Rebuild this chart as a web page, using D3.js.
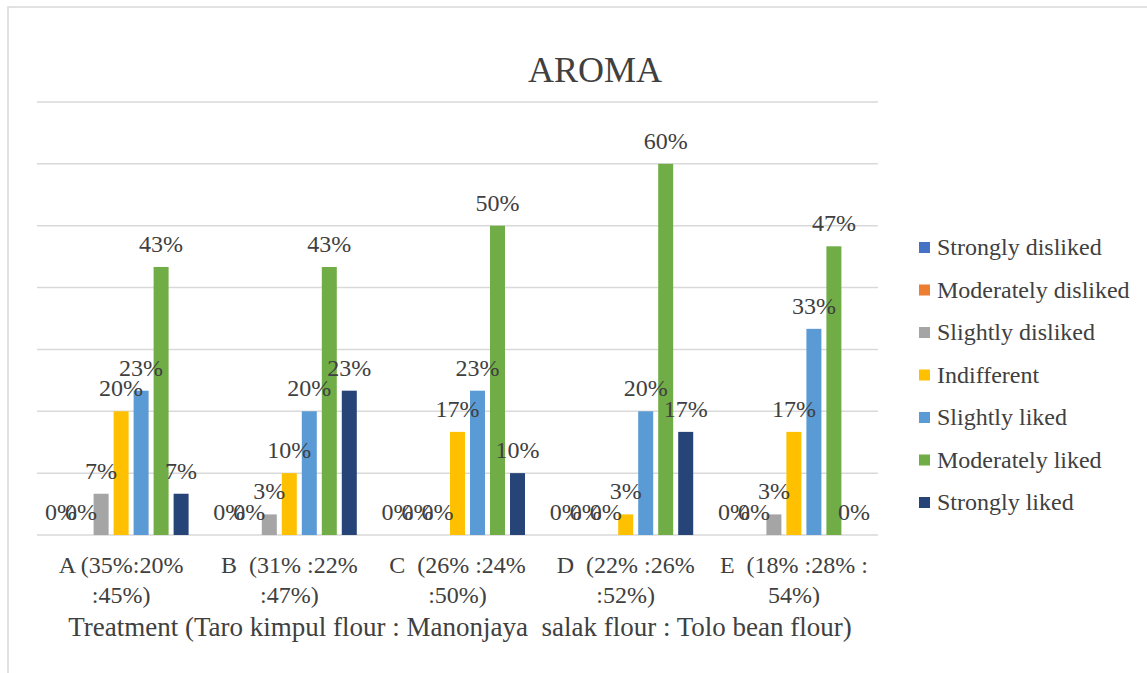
<!DOCTYPE html>
<html>
<head>
<meta charset="utf-8">
<script src="https://cdn.jsdelivr.net/npm/d3@7"></script>
</head>
<body>
<svg id="chart" width="1147" height="673" style="position:absolute;left:0;top:0"></svg>
<script>
// categories (two lines each) and series
const categories = ["A", "B", "C", "D", "E"];
const catLine1 = ["A (35%:20%", "B  (31% :22%", "C  (26% :24%", "D  (22% :26%", "E  (18% :28% :"];
const catLine2 = [":45%)", ":47%)", ":50%)", ":52%)", "54%)"];
const series = ["Strongly disliked", "Moderately disliked", "Slightly disliked", "Indifferent",
                "Slightly liked", "Moderately liked", "Strongly liked"];
const colors = ["#4472C4", "#ED7D31", "#A5A5A5", "#FFC000", "#5B9BD5", "#70AD47", "#264478"];

// percent values per series, one entry per category A..E
const stronglyDisliked   = [0, 0, 0, 0, 0];
const moderatelyDisliked = [0, 0, 0, 0, 0];
const slightlyDisliked   = [6.67, 3.33, 0, 0, 3.33];
const indifferent        = [20, 10, 16.67, 3.33, 16.67];
const slightlyLiked      = [23.33, 20, 23.33, 20, 33.33];
const moderatelyLiked    = [43.33, 43.33, 50, 60, 46.67];
const stronglyLiked      = [6.67, 23.33, 10, 16.67, 0];
const values = [stronglyDisliked, moderatelyDisliked, slightlyDisliked, indifferent,
                slightlyLiked, moderatelyLiked, stronglyLiked];
const yTicks = [0, 10, 20, 30, 40, 50, 60, 70];

const svg = d3.select("#chart");
const textColor = "#404040";

// outer frame
svg.append("rect")
  .attr("x", 8).attr("y", 7).attr("width", 1160).attr("height", 700)
  .attr("fill", "none").attr("stroke", "#d9d9d9").attr("stroke-width", 1.5);

// scales
const plot = {left: 37, right: 878, top: 102, bottom: 535};
const y = d3.scaleLinear().domain([0, 70]).range([plot.bottom, plot.top]);
const x0 = d3.scaleBand().domain(categories).range([plot.left, plot.right]);
const x1 = d3.scaleBand().domain(series).range([0, x0.bandwidth()])
  .paddingInner(0.25).paddingOuter(0.83);

// title
svg.append("text")
  .attr("x", 595).attr("y", 82)
  .attr("text-anchor", "middle")
  .attr("font-size", 36)
  .text("AROMA");

// gridlines
svg.append("g").selectAll("line")
  .data(yTicks)
  .join("line")
  .attr("x1", plot.left).attr("x2", plot.right)
  .attr("y1", d => y(d)).attr("y2", d => y(d))
  .attr("stroke", "#d9d9d9").attr("stroke-width", 1.5);

// flatten data
const rows = [];
categories.forEach((c, i) => {
  series.forEach((s, j) => {
    rows.push({cat: c, ser: s, idx: j, v: values[j][i]});
  });
});

// bars
svg.append("g").selectAll("rect")
  .data(rows)
  .join("rect")
  .attr("x", d => x0(d.cat) + x1(d.ser))
  .attr("y", d => y(d.v))
  .attr("width", x1.bandwidth())
  .attr("height", d => y(0) - y(d.v))
  .attr("fill", d => colors[d.idx]);

// data labels (all drawn on top of bars)
svg.append("g").selectAll("text").data(rows).join("text")
  .attr("x", d => x0(d.cat) + x1(d.ser) + x1.bandwidth() / 2)
  .attr("y", d => y(d.v) - 15)
  .attr("text-anchor", "middle")
  .attr("font-size", 24)
  .text(d => Math.round(d.v) + "%");

// category labels
const catG = svg.append("g");
categories.forEach((c, i) => {
  const cx = x0(c) + x0.bandwidth() / 2;
  catG.append("text")
    .attr("x", cx).attr("y", 573)
    .attr("text-anchor", "middle")
    .attr("font-size", 24)
    .attr("xml:space", "preserve")
    .text(catLine1[i]);
  catG.append("text")
    .attr("x", cx).attr("y", 603)
    .attr("text-anchor", "middle")
    .attr("font-size", 24)
    .text(catLine2[i]);
});

// axis title
svg.append("text")
  .attr("x", 460).attr("y", 636)
  .attr("text-anchor", "middle")
  .attr("font-size", 27)
  .attr("xml:space", "preserve")
  .text("Treatment (Taro kimpul flour : Manonjaya  salak flour : Tolo bean flour)");

// legend
const legend = svg.append("g").attr("transform", "translate(919,255)");
const item = legend.selectAll("g")
  .data(series)
  .join("g")
  .attr("transform", (d, i) => `translate(0,${i * 42.5})`);
item.append("rect")
  .attr("x", 0).attr("y", -13).attr("width", 11).attr("height", 11)
  .attr("fill", (d, i) => colors[i]);
item.append("text")
  .attr("x", 18).attr("y", 0)
  .attr("font-size", 24)
  .text(d => d);

// same font and colour for every text, set last
svg.selectAll("text")
  .attr("fill", textColor)
  .style("font-family", "\"Liberation Serif\", Tinos, \"Times New Roman\", serif");
</script>
</body>
</html>
